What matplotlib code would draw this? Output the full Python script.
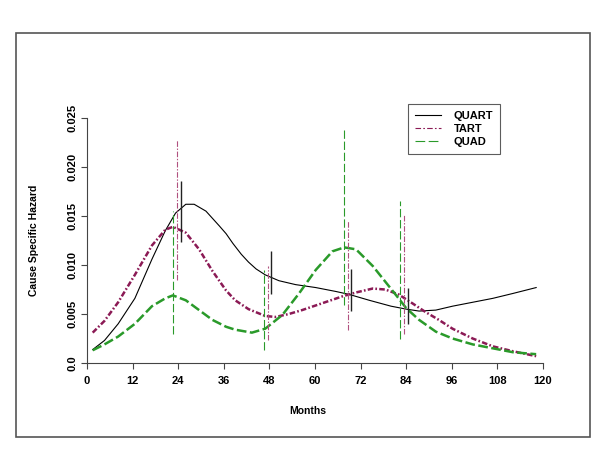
import matplotlib
matplotlib.use("Agg")
import matplotlib.pyplot as plt
from matplotlib.patches import Rectangle

plt.rcParams['font.family'] = ['Liberation Sans', 'DejaVu Sans']
plt.rcParams['font.weight'] = 'bold'
plt.rcParams['lines.scale_dashes'] = False

# ---- data ----
quart_m = [1.5, 4.6, 8.2, 12.6, 17.1, 20.6, 23.3, 26, 28.2, 31.3, 34.8, 36.6, 38.4,
           40.6, 42.5, 44.5, 46.9, 50.5, 54.9, 60.2, 65.5, 69, 74.3, 80, 84, 87.4,
           91.8, 96.2, 101.5, 106.8, 112.1, 118.2]
quart_v = [0.00137, 0.0023, 0.0040, 0.0066, 0.0106, 0.0135, 0.0153, 0.0162, 0.0162,
           0.0155, 0.0140, 0.0132, 0.0122, 0.0111, 0.0103, 0.0096, 0.0090, 0.0084,
           0.0080, 0.0077, 0.0073, 0.0070, 0.0064, 0.0058, 0.0055, 0.0053, 0.0054,
           0.0058, 0.0062, 0.0066, 0.0071, 0.0077]

tart_m = [1.5, 4.6, 8.2, 12.6, 17.1, 20.6, 22.6, 26, 29.5, 33, 36.6, 39, 42.5, 46.9,
          49.6, 53.1, 56.6, 61.9, 67.2, 70.8, 75.2, 78.5, 82, 85.6, 89.1, 92.6, 96.2,
          101.5, 106.8, 112.1, 118.2]
tart_v = [0.0031, 0.0043, 0.0062, 0.0090, 0.0120, 0.0136, 0.0139, 0.0133, 0.0116,
          0.0094, 0.0074, 0.0064, 0.0055, 0.0048, 0.0047, 0.0050, 0.0054, 0.0061,
          0.0068, 0.0072, 0.0076, 0.0075, 0.0070, 0.0061, 0.0052, 0.0044, 0.0035,
          0.0025, 0.0017, 0.0012, 0.0007]

quad_m = [1.5, 4.6, 8.2, 12.6, 17.1, 20.6, 22.6, 26, 29.5, 33, 36.6, 39, 43.4, 46.9,
          51.4, 55.8, 60.2, 64.6, 67.7, 70.8, 75.2, 78.5, 82, 84, 87.4, 91.8, 96.2,
          101.5, 106.8, 112.1, 118.2]
quad_v = [0.0013, 0.0019, 0.0027, 0.0040, 0.0058, 0.0066, 0.0069, 0.0064, 0.0054,
          0.0044, 0.0037, 0.0034, 0.0031, 0.0035, 0.0049, 0.0071, 0.0095, 0.0114,
          0.0118, 0.0116, 0.0099, 0.0083, 0.0066, 0.0056, 0.0044, 0.0032, 0.0025,
          0.0019, 0.0015, 0.0011, 0.0009]

# vertical interval bars: month, lower, upper
quart_ci_m = [24.7, 48.5, 69.5, 84.4]
quart_ci_lo = [0.0123, 0.0070, 0.0053, 0.0040]
quart_ci_hi = [0.0186, 0.0114, 0.0096, 0.0077]

tart_ci_m = [23.6, 47.6, 68.7, 83.4]
tart_ci_lo = [0.0085, 0.0023, 0.0034, 0.0030]
tart_ci_hi = [0.0228, 0.0099, 0.0146, 0.0152]

quad_ci_m = [22.6, 46.6, 67.5, 82.4]
quad_ci_lo = [0.0030, 0.0013, 0.0059, 0.0025]
quad_ci_hi = [0.0155, 0.0095, 0.0240, 0.0165]

x_ticks = list(range(0, 121, 12))
y_ticks = [0.0, 0.005, 0.010, 0.015, 0.020, 0.025]
y_labels = ["0.0", "0.005", "0.010", "0.015", "0.020", "0.025"]

purple = '#8b1a55'
green = '#2a9a2a'
dashdot = (0, (4, 1.6, 1.2, 1.6))
longdash = (0, (7, 2.5))

fig = plt.figure(figsize=(6, 4.5), dpi=100)
ax = fig.add_axes([0.145, 0.1933, 0.76, 0.5444])

ax.plot(quart_m, quart_v, color='black', lw=0.8, label='QUART')
ax.plot(tart_m, tart_v, color=purple, lw=1.8, linestyle=dashdot, label='TART')
ax.plot(quad_m, quad_v, color=green, lw=1.8, linestyle=longdash, label='QUAD')

ax.vlines(quart_ci_m, quart_ci_lo, quart_ci_hi, color='#222222', lw=1.0)
ax.vlines(tart_ci_m, tart_ci_lo, tart_ci_hi, color='#b0507f', lw=0.8,
          linestyles=[(0, (4, 1.2, 1, 1.2))])
ax.vlines(quad_ci_m, quad_ci_lo, quad_ci_hi, color=green, lw=0.8,
          linestyles=[(0, (6, 2))])

ax.set_xlim(0, 120)
ax.set_ylim(0, 0.025)
ax.spines['top'].set_visible(False)
ax.spines['right'].set_visible(False)
ax.spines['left'].set_color('#444444')
ax.spines['bottom'].set_color('#444444')
ax.set_xticks(x_ticks)
ax.set_xticklabels([str(t) for t in x_ticks], fontsize=8, fontweight='bold')
ax.set_yticks(y_ticks)
ax.set_yticklabels(y_labels, fontsize=8, fontweight='bold', rotation=90, va='center')
ax.tick_params(axis='x', length=4, pad=5, color='#444444')
ax.tick_params(axis='y', length=4, pad=3, color='#444444')

ax.set_xlabel('Months', fontsize=7.5, fontweight='bold')
ax.set_ylabel('Cause Specific Hazard', fontsize=7.5, fontweight='bold')
ax.xaxis.set_label_coords(0.485, -0.175)
ax.yaxis.set_label_coords(-0.105, 0.5)

leg = ax.legend(loc='upper left', bbox_to_anchor=(0.704, 1.057), fontsize=8,
                frameon=True, fancybox=False, handlelength=2.4, handletextpad=1.1,
                labelspacing=0.28, borderpad=0.6, borderaxespad=0)
leg.get_frame().set_edgecolor('#333333')
leg.get_frame().set_linewidth(0.8)
for line in leg.get_lines():
    line.set_linewidth(0.8)
for txt in leg.get_texts():
    txt.set_fontweight('bold')

# outer frame round the whole graphic
fig.patches.append(Rectangle((16 / 600, 1 - 437 / 450), 574 / 600, 404 / 450,
                             transform=fig.transFigure, fill=False,
                             edgecolor='#555555', lw=1.2))

fig.savefig('out.png', dpi=100)
